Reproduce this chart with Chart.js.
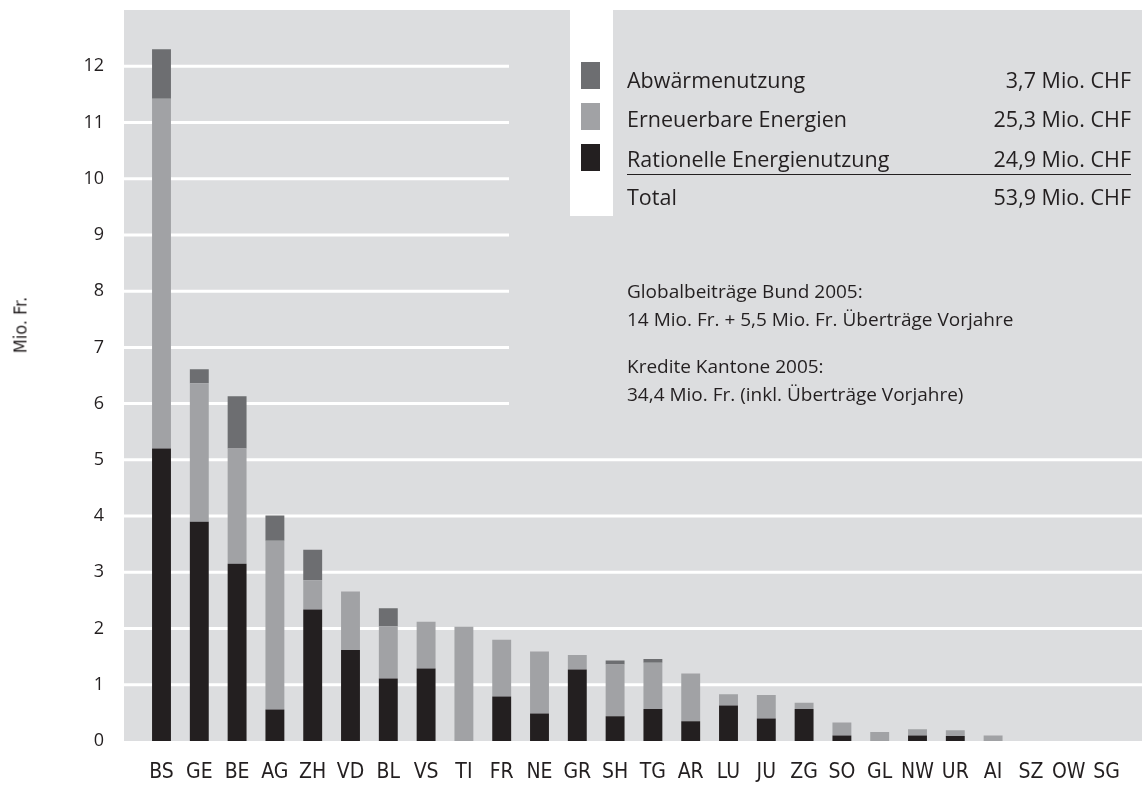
<!DOCTYPE html>
<html>
<head>
<meta charset="utf-8">
<script src="https://cdn.jsdelivr.net/npm/chart.js@4.4.1/dist/chart.umd.min.js"></script>
<style>
html,body{margin:0;padding:0;background:#fff;}
#wrap{position:relative;width:1142px;height:785px;overflow:hidden;font-family:'Open Sans',sans-serif;color:#231f20;}
#c{position:absolute;left:0;top:0;}
.row{position:absolute;left:627px;width:504px;height:39.3px;line-height:39.3px;font-size:21.5px;display:flex;justify-content:space-between;white-space:nowrap;}
.sw{position:absolute;left:581px;width:19px;height:27px;}
.note{position:absolute;left:627px;font-size:19px;line-height:28.4px;white-space:nowrap;}
#ytitle{position:absolute;left:20px;top:325px;transform:translate(-50%,-50%) rotate(-90deg);font-family:'Noto Sans Condensed','DejaVu Sans Condensed','Noto Sans',sans-serif;font-stretch:condensed;font-size:18px;white-space:nowrap;}
</style>
</head>
<body>
<div id="wrap">
<canvas id="c" width="1142" height="785"></canvas>
<div style="position:absolute;left:570px;top:10px;width:43px;height:206px;background:#fff;"></div>
<div id="legend"></div>
<div style="position:absolute;left:627px;top:174px;width:504px;height:1px;background:#231f20;"></div>
<div class="note" style="top:276.7px;">Globalbeiträge Bund 2005:<br>14 Mio. Fr. + 5,5 Mio. Fr. Überträge Vorjahre</div>
<div class="note" style="top:351.7px;">Kredite Kantone 2005:<br>34,4 Mio. Fr. (inkl. Überträge Vorjahre)</div>
<div id="ytitle">Mio. Fr.</div>
</div>
<script>
// ---- data ----
const categories = ['BS','GE','BE','AG','ZH','VD','BL','VS','TI','FR','NE','GR','SH','TG','AR','LU','JU','ZG','SO','GL','NW','UR','AI','SZ','OW','SG'];
const rationelleEnergienutzung = [5.20,3.90,3.15,0.56,2.34,1.62,1.11,1.29,0,0.79,0.49,1.27,0.44,0.57,0.35,0.63,0.40,0.57,0.10,0,0.10,0.09,0,0,0,0];
const erneuerbareEnergien = [6.22,2.46,2.05,3.00,0.52,1.04,0.93,0.83,2.03,1.01,1.10,0.26,0.92,0.82,0.85,0.20,0.42,0.11,0.23,0.16,0.11,0.10,0.10,0,0,0];
const abwaermenutzung = [0.88,0.25,0.93,0.45,0.54,0,0.32,0,0,0,0,0,0.07,0.07,0,0,0,0,0,0,0,0,0,0,0,0];
const yTicks = [0,1,2,3,4,5,6,7,8,9,10,11,12];
const legendNames = ['Abwärmenutzung','Erneuerbare Energien','Rationelle Energienutzung','Total'];
const legendValues = ['3,7 Mio. CHF','25,3 Mio. CHF','24,9 Mio. CHF','53,9 Mio. CHF'];
const colors = {abw:'#6d6e71', ern:'#a1a2a5', rat:'#231f20', panel:'#dcdddf'};

// ---- legend (HTML) ----
const swColors = [colors.abw, colors.ern, colors.rat];
const legend = document.getElementById('legend');
const rowTops = [59.8, 99.2, 138.8, 177.4];
const swTops = [62, 103, 144];
legendNames.forEach((n,i)=>{
  const r = document.createElement('div');
  r.className='row'; r.style.top = rowTops[i]+'px';
  r.innerHTML = '<span>'+n+'</span><span>'+legendValues[i]+'</span>';
  legend.appendChild(r);
  if(i<3){
    const s=document.createElement('div'); s.className='sw';
    s.style.top=swTops[i]+'px'; s.style.background=swColors[i];
    legend.appendChild(s);
  }
});

// ---- chart ----
const PAD_L = 18.6, PAD_R = 16.6, GRID_CUT_X = 509;
const panelPlugin = {
  id:'panel',
  beforeDraw(chart){
    const {ctx, chartArea:a} = chart;
    ctx.save();
    ctx.fillStyle = colors.panel;
    ctx.fillRect(a.left-PAD_L, a.top, (a.right+PAD_R)-(a.left-PAD_L), a.bottom-a.top);
    ctx.restore();
  },
  beforeDatasetsDraw(chart){
    const {ctx, chartArea:a, scales:{y}} = chart;
    ctx.save();
    ctx.strokeStyle = '#ffffff';
    ctx.lineWidth = 3;
    yTicks.forEach(v=>{
      if(v===0) return;
      const py = y.getPixelForValue(v);
      const x1 = v>=6 ? GRID_CUT_X : a.right+PAD_R;
      ctx.beginPath(); ctx.moveTo(a.left-PAD_L, py); ctx.lineTo(x1, py); ctx.stroke();
    });
    ctx.restore();
  }
};

new Chart(document.getElementById('c'), {
  type:'bar',
  data:{
    labels: categories,
    datasets:[
      {label:legendNames[2], data:rationelleEnergienutzung, backgroundColor:colors.rat},
      {label:legendNames[1], data:erneuerbareEnergien, backgroundColor:colors.ern},
      {label:legendNames[0], data:abwaermenutzung, backgroundColor:colors.abw}
    ]
  },
  options:{
    responsive:false,
    animation:false,
    devicePixelRatio:1,
    barPercentage:0.5,
    categoryPercentage:1.0,
    layout:{padding:{top:10,right:PAD_R,bottom:0,left:0}},
    plugins:{legend:{display:false},tooltip:{enabled:false},title:{display:false}},
    scales:{
      x:{
        stacked:true,
        grid:{display:false,drawTicks:false},
        border:{display:false},
        afterFit(s){ s.height = 44; s.paddingLeft = 0; s.paddingRight = 0; },
        ticks:{color:'#231f20',padding:19,maxRotation:0,autoSkip:false,
          font:{family:"'Noto Sans Condensed','DejaVu Sans Condensed','Noto Sans',sans-serif",weight:'condensed',size:21,lineHeight:1.2}}
      },
      y:{
        stacked:true,
        min:0,max:13,
        grid:{display:false,drawTicks:false},
        border:{display:false},
        afterFit(s){ s.width = 142.6; s.paddingTop = 0; s.paddingBottom = 0; },
        ticks:{stepSize:1,color:'#231f20',padding:38.6,
          font:{family:"'Open Sans',sans-serif",size:18,lineHeight:1},
          callback:(v)=> yTicks.includes(v) ? String(v) : null}
      }
    }
  },
  plugins:[panelPlugin]
});
</script>
</body>
</html>
